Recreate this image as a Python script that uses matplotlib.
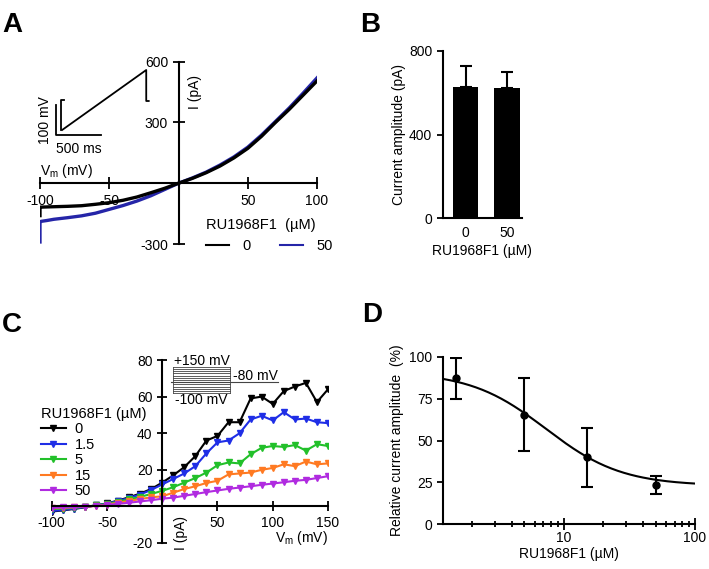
import numpy as np
import matplotlib
matplotlib.use('Agg')
import matplotlib.pyplot as plt
from matplotlib.ticker import NullFormatter

plt.rcParams['font.family'] = ['Liberation Sans', 'DejaVu Sans']
plt.rcParams['font.size'] = 10
plt.rcParams['mathtext.fontset'] = 'custom'
plt.rcParams['mathtext.rm'] = 'Liberation Sans'
plt.rcParams['axes.linewidth'] = 1.5
plt.rcParams['axes.unicode_minus'] = False

# --- data: panel A (ramp I-V traces) ---
ramp_v = [-100, -100, -99, -95, -90, -80, -70, -60, -50, -40, -30, -20, -10,
          0, 10, 20, 30, 40, 50, 60, 70, 80, 90, 100]
i_ctrl = [-160, -118, -118, -117, -116, -114, -111, -104, -96, -84, -68, -47, -25,
          0, 24, 52, 85, 125, 172, 232, 300, 365, 435, 505]
i_ru50 = [-290, -190, -188, -184, -178, -170, -161, -148, -129, -110, -88, -62, -31,
          0, 26, 55, 90, 130, 178, 238, 305, 372, 445, 520]

# --- data: panel B (bar chart) ---
conc_b = ['0', '50']
amp_mean = [629, 624]
amp_sem = [99, 77]

# --- data: panel C (step I-V curves) ---
step_v = [-100, -90, -80, -70, -60, -50, -40, -30, -20, -10, 0, 10, 20,
          30, 40, 50, 60, 70, 80, 90, 100, 110, 120, 130, 140, 150]
iv_0 = [-2.8, -2.2, -1.4, -0.5, 0.6, 1.6, 3.2, 5, 7, 9.5, 13, 17, 21.5,
        27.5, 36, 38.5, 46, 46, 59, 60, 56, 63, 65.5, 67.5, 57, 64]
iv_1_5 = [-2.5, -2, -1.2, -0.4, 0.6, 1.5, 3, 4.6, 6.5, 9, 12, 15, 18,
          22, 29, 35, 36, 40, 47.5, 49.5, 47, 51.5, 47.5, 48, 46, 45.5]
iv_5 = [-1.5, -1.2, -0.8, -0.2, 0.5, 1.3, 2.5, 3.8, 5.2, 6.8, 8.5, 10.5, 13,
        15.5, 18.5, 22.5, 24, 23.5, 28.5, 32, 33, 32.5, 33.5, 30.5, 34, 33]
iv_15 = [-1, -0.8, -0.5, -0.2, 0.3, 1, 2, 3, 4, 5, 5.5, 7.5, 9.5,
         11, 12.8, 14, 17.5, 18, 18.5, 20, 21, 23, 22, 24.5, 23, 23.5]
iv_50 = [-0.8, -0.6, -0.4, -0.1, 0.3, 0.8, 1.4, 2, 2.7, 3.4, 4.2, 4.8, 5.8,
         6.8, 7.8, 8.7, 9.6, 10.3, 11, 11.8, 12.5, 13.2, 14, 14.5, 15.5, 16.5]
iv_labels = ['0', '1.5', '5', '15', '50']
iv_colors = ['black', '#1f2ee6', '#22c02a', '#ff7a22', '#b02be0']

# --- data: panel D (dose response) ---
conc_d = [1.5, 5, 15, 50]
rel_mean = [87, 65.5, 40, 23.5]
rel_err = [12, 21.7, 17.5, 5.3]
hill_bottom, hill_top, hill_ic50, hill_n = 23, 91, 7.3, 1.5

W, H = 709, 569
fig = plt.figure(figsize=(W / 100, H / 100), dpi=100)


def rect(x0, y_top, x1, y_bot):
    return [x0 / W, 1 - y_bot / H, (x1 - x0) / W, (y_bot - y_top) / H]


# ---------------- Panel A ----------------
axA = fig.add_axes(rect(40, 61.7, 317, 244))
axA.plot(ramp_v, i_ru50, color='#2525a8', lw=2.4, label='50')
axA.plot(ramp_v, i_ctrl, color='black', lw=2.4, label='0')
axA.set_xlim(-100, 100)
axA.set_ylim(-300, 600)
axA.spines['left'].set_position(('data', 0))
axA.spines['bottom'].set_position(('data', 0))
axA.spines['top'].set_visible(False)
axA.spines['right'].set_visible(False)
axA.set_xticks([-100, -50, 50, 100])
axA.set_yticks([-300, 300, 600])
axA.tick_params(direction='inout', length=8, width=1.3)
axA.text(-100, 14, r'V$_{\rm m}$ (mV)', ha='left', va='bottom')
axA.text(7, 450, 'I (pA)', rotation=90, ha='left', va='center')
# voltage ramp protocol and scale bars
axA.plot([-88.4, -88.4, -55.9], [386, 240, 240], color='black', lw=1.3, clip_on=False)
axA.text(-91.5, 313, '100 mV', rotation=90, ha='right', va='center')
axA.text(-72, 205, '500 ms', ha='center', va='top')
axA.plot([-83, -84.8, -84.8], [411, 411, 263], color='black', lw=1.3, clip_on=False)
axA.plot([-84, -23.3, -23.3, -21.5], [263, 559, 406, 406], color='black', lw=1.3, clip_on=False)
hA, lA = axA.get_legend_handles_labels()
legA = axA.legend(hA[::-1], lA[::-1], title='RU1968F1  (µM)', ncol=2, frameon=False,
                  loc='upper left', bbox_to_anchor=(206 / W, 1 - 218 / H),
                  bbox_transform=fig.transFigure, handlelength=1.6,
                  handletextpad=0.9, columnspacing=2.0, borderpad=0,
                  borderaxespad=0, alignment='left',
                  prop={'size': 10.5}, title_fontsize=10.5)
for ln in legA.get_lines():
    ln.set_linewidth(1.5)

# ---------------- Panel B ----------------
axB = fig.add_axes(rect(442.7, 51, 522, 218))
xb = np.arange(len(conc_b))
axB.bar(xb, amp_mean, width=0.62, color='black',
        yerr=[[0] * len(amp_sem), amp_sem], capsize=4.5,
        error_kw=dict(elinewidth=1.5, capthick=1.5, ecolor='black'))
axB.set_xlim(-0.55, 1.36)
axB.set_ylim(0, 800)
axB.set_yticks([0, 400, 800])
axB.set_xticks(xb)
axB.set_xticklabels(conc_b)
axB.spines['top'].set_visible(False)
axB.spines['right'].set_visible(False)
axB.tick_params(axis='y', direction='out', length=4, width=1.3)
axB.tick_params(axis='x', length=0, pad=6)
axB.set_xlabel('RU1968F1 (µM)', labelpad=3)
axB.set_ylabel('Current amplitude (pA)', labelpad=2)

# ---------------- Panel C ----------------
axC = fig.add_axes(rect(51.7, 360, 328, 543))
for vals, lab, col in zip([iv_0, iv_1_5, iv_5, iv_15, iv_50], iv_labels, iv_colors):
    axC.plot(step_v, vals, color=col, lw=1.5, marker='v', markersize=4.5, label=lab)
axC.set_xlim(-100, 150)
axC.set_ylim(-20, 80)
axC.spines['left'].set_position(('data', 0))
axC.spines['bottom'].set_position(('data', 0))
axC.spines['top'].set_visible(False)
axC.spines['right'].set_visible(False)
axC.set_xticks([-100, -50, 50, 100, 150])
axC.set_yticks([-20, 20, 40, 60, 80])
axC.tick_params(direction='inout', length=7, width=1.3)
axC.text(17, -14.5, 'I (pA)', rotation=90, ha='center', va='center')
axC.text(150, -17.5, r'V$_{\rm m}$ (mV)', ha='right', va='center')
# step protocol inset
for yy in np.linspace(61.8, 76.3, 13):
    axC.plot([9.7, 60.9], [yy, yy], color='#444444', lw=0.6)
axC.plot([9.7, 9.7], [61.8, 76.3], color='#444444', lw=0.6)
axC.plot([60.9, 60.9], [61.8, 76.3], color='#444444', lw=0.6)
axC.plot([7.5, 105], [67.8, 67.8], color='#444444', lw=0.8)
axC.text(11, 79.5, '+150 mV', ha='left', va='center')
axC.text(64, 71.5, '-80 mV', ha='left', va='center')
axC.text(11.5, 58, '-100 mV', ha='left', va='center')
axC.legend(title='RU1968F1 (µM)', frameon=False, loc='upper left',
           bbox_to_anchor=(41 / W, 1 - 407 / H), bbox_transform=fig.transFigure,
           handlelength=1.7, handletextpad=0.6, labelspacing=0.1,
           borderpad=0, borderaxespad=0, alignment='left',
           prop={'size': 10.5}, title_fontsize=10.5)

# ---------------- Panel D ----------------
axD = fig.add_axes(rect(443, 356.7, 695, 524.3))
xfit = np.logspace(np.log10(1.2), 2, 200)
yfit = hill_bottom + (hill_top - hill_bottom) / (1 + (xfit / hill_ic50) ** hill_n)
axD.plot(xfit, yfit, color='black', lw=1.5)
axD.errorbar(conc_d, rel_mean, yerr=rel_err, fmt='o', color='black', markersize=5,
             elinewidth=1.5, capsize=4.5, capthick=1.5)
axD.set_xscale('log')
axD.set_xlim(1.2, 100)
axD.set_ylim(0, 100)
axD.set_yticks([0, 25, 50, 75, 100])
axD.set_xticks([10, 100])
axD.set_xticklabels(['10', '100'])
axD.set_xticks([2, 3, 4, 5, 6, 7, 8, 9, 20, 30, 40, 50, 60, 70, 80, 90], minor=True)
axD.xaxis.set_minor_formatter(NullFormatter())
axD.spines['top'].set_visible(False)
axD.spines['right'].set_visible(False)
axD.tick_params(axis='y', direction='out', length=4, width=1.3)
axD.tick_params(axis='x', which='major', direction='inout', length=8, width=1.3, pad=1)
axD.tick_params(axis='x', which='minor', direction='inout', length=5, width=1.3)
axD.set_xlabel('RU1968F1 (µM)', labelpad=1)
axD.set_ylabel('Relative current amplitude  (%)', labelpad=4)

# panel letters
for letter, x, y in [('A', 2, 12), ('B', 360, 12), ('C', 2, 312), ('D', 362, 302)]:
    fig.text(x / W, 1 - y / H, letter, fontsize=20, fontweight='bold', ha='left', va='top')

fig.savefig('out.png', dpi=100)
